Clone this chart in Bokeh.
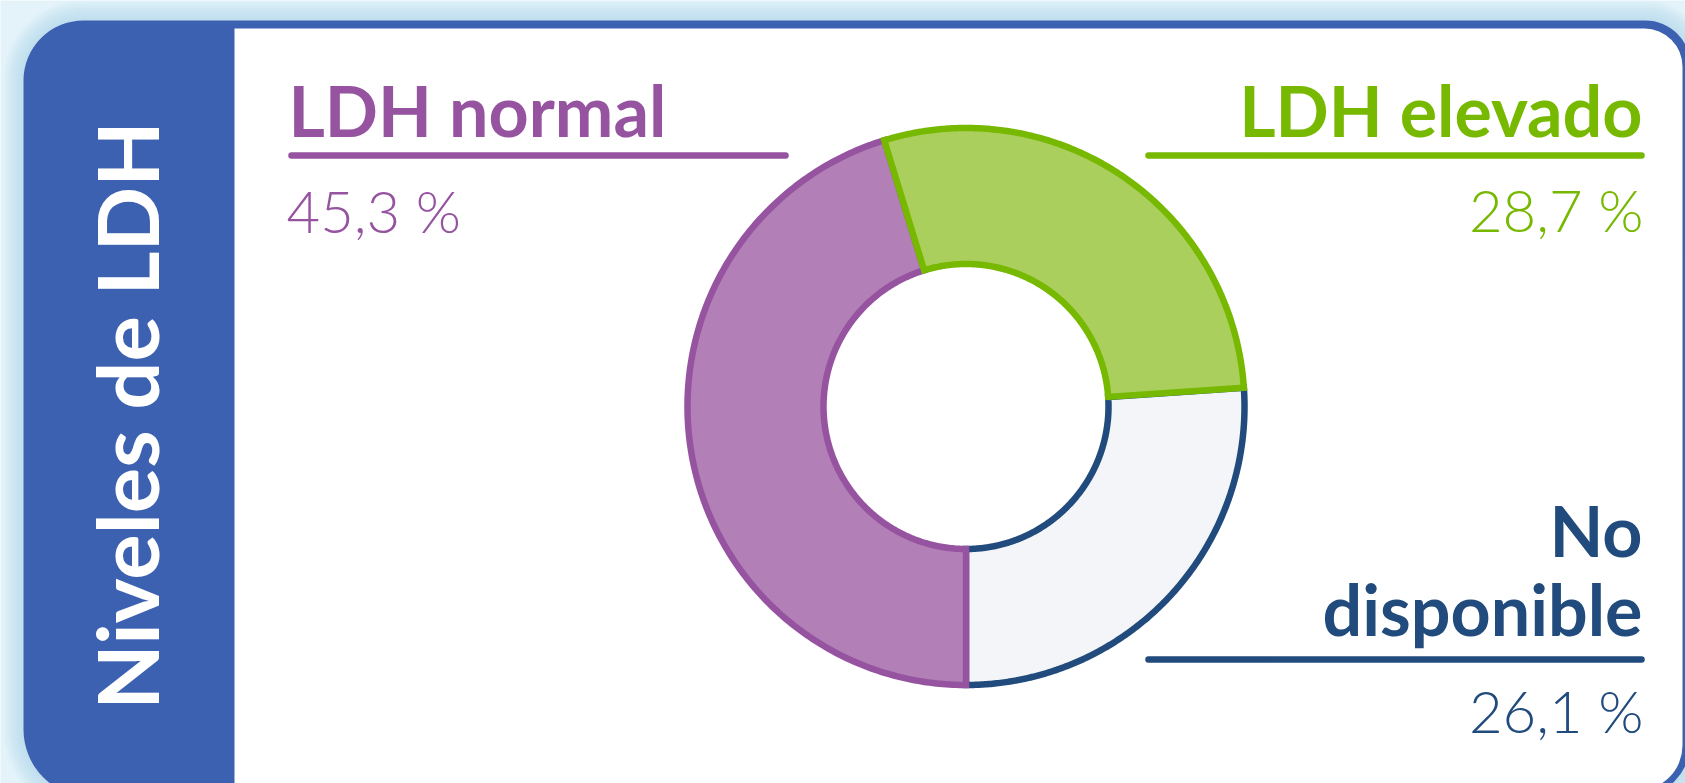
import numpy as np
from bokeh.plotting import figure
from bokeh.models import Range1d, BoxAnnotation, ColumnDataSource
from bokeh.core.properties import value
from bokeh.embed import file_html
from bokeh.resources import INLINE

# ---------------- data ----------------
categories = ["LDH normal", "LDH elevado", "No disponible"]
percent_values = [45.3, 28.7, 26.1]
percent_labels = ["45,3 %", "28,7 %", "26,1 %"]
title_text = "Niveles de LDH"

# ---------------- styles ----------------
line_colors = ["#9553A0", "#77B800", "#214B7D"]
fill_colors = ["#B280B6", "#AACF5D", "#F3F5F9"]
panel_blue = "#3C61B0"
bg = "#E4F3FA"

# page-pixel coordinate frame
W, H = 1685, 783
p = figure(width=W, height=H, x_range=Range1d(0, W), y_range=Range1d(H, 0),
           output_backend="svg", toolbar_location=None, min_border=0,
           x_axis_type=None, y_axis_type=None,
           background_fill_color=bg, border_fill_color=bg, outline_line_color=None)
p.grid.visible = False

# shadow glow around the card
for k in range(1, 9):
    e = 2.5 * k
    p.add_layout(BoxAnnotation(left=23 - e, right=1690 + e, top=20 - e, bottom=797 + e,
                               fill_color="#A8D6EA", fill_alpha=0.09, line_color=None,
                               border_radius=(int(60 + e), int(45 + e), int(55 + e), int(68 + e)),
                               level="underlay"))
# blue card
p.add_layout(BoxAnnotation(left=23, right=1690, top=20, bottom=797, fill_color=panel_blue,
                           fill_alpha=1, line_color=None, border_radius=(60, 45, 55, 68),
                           level="underlay"))
# white content area
p.add_layout(BoxAnnotation(left=234, right=1682, top=28, bottom=790, fill_color="white",
                           fill_alpha=1, line_color=None, border_radius=(0, 38, 45, 0),
                           level="underlay"))

# ---------------- donut ----------------
cx, cy, R_out, R_in = 965.5, 406.0, 278.5, 142.5
vals = np.array(percent_values, dtype=float)
cum = np.concatenate([[0.0], np.cumsum(vals)]) / vals.sum()
# start at 6 o'clock, proceed clockwise
starts = np.deg2rad(270.0 - 360.0 * cum[:-1])
ends = np.deg2rad(270.0 - 360.0 * cum[1:])
xs, ys = [], []
for a0, a1 in zip(starts, ends):
    t = np.linspace(a0, a1, 240)
    xo = cx + R_out * np.cos(t)
    yo = cy - R_out * np.sin(t)
    xi = cx + R_in * np.cos(t[::-1])
    yi = cy - R_in * np.sin(t[::-1])
    xs.append(list(np.concatenate([xo, xi])))
    ys.append(list(np.concatenate([yo, yi])))

draw_order = [2, 0, 1]
src = ColumnDataSource(dict(xs=[xs[i] for i in draw_order], ys=[ys[i] for i in draw_order],
                            fc=[fill_colors[i] for i in draw_order],
                            lc=[line_colors[i] for i in draw_order]))
p.patches("xs", "ys", source=src, fill_color="fc", line_color="lc", line_width=6.5,
          line_join="miter")

# ---------------- labels ----------------
head_font = value("Lato")
num_font = value("Lato Light")
HEAD = 70
NUM = 58
TITLE = 85
SHIFT = 0.385  # renderer places the alphabetic baseline this many em lower


def base(y, size):
    return y - SHIFT * size


# LDH normal (left)
p.text(x=[288], y=[base(136, HEAD)], text=[categories[0]], text_font=head_font, text_font_style="bold",
       text_font_size=f"{HEAD}px", text_color=line_colors[0], text_align="left", text_baseline="alphabetic")
p.segment(x0=[291], y0=[155], x1=[785], y1=[155], line_width=6.5, line_cap="round",
          line_color=line_colors[0])
p.text(x=[286], y=[base(232, NUM)], text=[percent_labels[0]], text_font=num_font,
       text_font_size=f"{NUM}px", text_color=line_colors[0], text_align="left", text_baseline="alphabetic")

# LDH elevado (right top)
p.text(x=[1642], y=[base(136, HEAD)], text=[categories[1]], text_font=head_font, text_font_style="bold",
       text_font_size=f"{HEAD}px", text_color=line_colors[1], text_align="right", text_baseline="alphabetic")
p.segment(x0=[1148], y0=[155], x1=[1641], y1=[155], line_width=6.5, line_cap="round",
          line_color=line_colors[1])
p.text(x=[1643], y=[base(231, NUM)], text=[percent_labels[1]], text_font=num_font,
       text_font_size=f"{NUM}px", text_color=line_colors[1], text_align="right", text_baseline="alphabetic")

# No disponible (right bottom)
nd_words = categories[2].split(" ")
p.text(x=[1642, 1642], y=[base(556, HEAD), base(635, HEAD)], text=nd_words, text_font=head_font,
       text_font_style="bold", text_font_size=f"{HEAD}px", text_color=line_colors[2],
       text_align="right", text_baseline="alphabetic")
p.segment(x0=[1148], y0=[659], x1=[1641], y1=[659], line_width=6.5, line_cap="round",
          line_color=line_colors[2])
p.text(x=[1643], y=[base(732, NUM)], text=[percent_labels[2]], text_font=num_font,
       text_font_size=f"{NUM}px", text_color=line_colors[2], text_align="right", text_baseline="alphabetic")

# vertical title (reads bottom to top; baseline on the right side)
p.text(x=[158.5 - SHIFT * TITLE], y=[415], text=[title_text], text_font=head_font, text_font_style="bold",
       text_font_size=f"{TITLE}px", text_color="white", angle=np.pi / 2,
       text_align="center", text_baseline="alphabetic")

open("out.html", "w").write(file_html(p, INLINE))
